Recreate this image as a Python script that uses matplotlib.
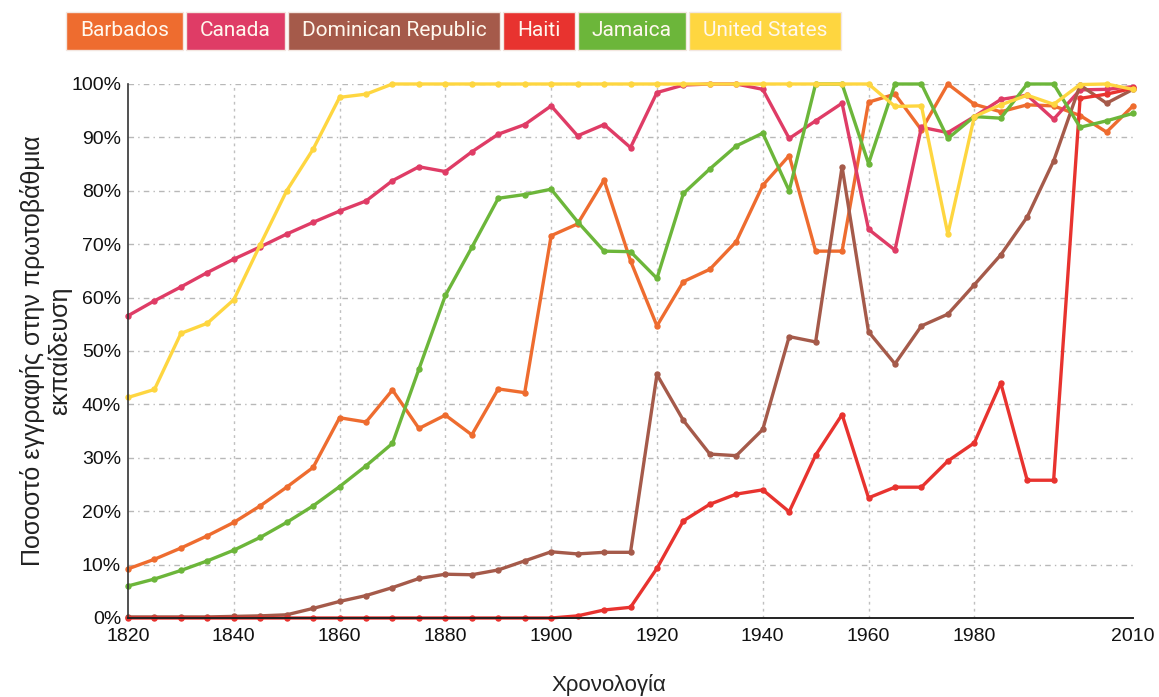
import matplotlib
matplotlib.use("Agg")
import matplotlib.pyplot as plt
from matplotlib.patches import Rectangle
from matplotlib.ticker import FuncFormatter

years = [1820, 1825, 1830, 1835, 1840, 1845, 1850, 1855, 1860, 1865,
         1870, 1875, 1880, 1885, 1890, 1895, 1900, 1905, 1910, 1915,
         1920, 1925, 1930, 1935, 1940, 1945, 1950, 1955, 1960, 1965,
         1970, 1975, 1980, 1985, 1990, 1995, 2000, 2005, 2010]

barbados = [9.2, 11.0, 13.1, 15.4, 17.9, 21.0, 24.5, 28.2, 37.5, 36.7,
            42.7, 35.5, 38.0, 34.3, 42.9, 42.2, 71.6, 73.8, 82.0, 66.9,
            54.7, 63.0, 65.3, 70.5, 81.0, 86.6, 68.7, 68.7, 96.6, 98.1,
            91.4, 100.0, 96.2, 94.8, 96.1, 95.9, 94.1, 91.0, 95.9]
canada = [56.6, 59.4, 62.0, 64.7, 67.2, 69.5, 71.9, 74.1, 76.2, 78.1,
          81.9, 84.5, 83.6, 87.3, 90.6, 92.4, 95.9, 90.3, 92.4, 88.1,
          98.4, 99.8, 100.0, 100.0, 99.0, 89.8, 93.1, 96.4, 72.8, 68.9,
          91.9, 90.9, 93.9, 97.1, 97.9, 93.4, 98.9, 99.0, 99.5]
dominican = [0.2, 0.2, 0.2, 0.2, 0.3, 0.4, 0.6, 1.8, 3.1, 4.2,
             5.7, 7.4, 8.2, 8.1, 9.0, 10.7, 12.4, 12.0, 12.3, 12.3,
             45.6, 37.0, 30.7, 30.4, 35.3, 52.7, 51.7, 84.5, 53.6, 47.6,
             54.7, 56.9, 62.4, 68.0, 75.1, 85.6, 99.8, 96.4, 99.0]
haiti = [0, 0, 0, 0, 0, 0, 0, 0, 0, 0,
         0, 0, 0, 0, 0, 0, 0, 0.4, 1.5, 2.0,
         9.3, 18.2, 21.3, 23.2, 24.0, 19.9, 30.5, 38.1, 22.5, 24.5,
         24.5, 29.4, 32.8, 44.0, 25.8, 25.8, 97.3, 98.1, 99.2]
jamaica = [6.0, 7.3, 8.9, 10.7, 12.7, 15.1, 17.9, 21.0, 24.6, 28.5,
           32.7, 46.6, 60.4, 69.4, 78.6, 79.3, 80.3, 74.2, 68.7, 68.6,
           63.6, 79.5, 84.1, 88.4, 90.8, 80.0, 100.0, 100.0, 85.1, 100.0,
           100.0, 89.8, 93.9, 93.6, 100.0, 100.0, 91.9, 93.1, 94.5]
united_states = [41.3, 42.8, 53.3, 55.2, 59.6, 69.9, 80.0, 87.8, 97.5, 98.1,
                 100.0, 100.0, 100.0, 100.0, 100.0, 100.0, 100.0, 100.0, 100.0, 100.0,
                 100.0, 100.0, 100.0, 100.0, 100.0, 100.0, 100.0, 100.0, 100.0, 95.8,
                 95.9, 71.9, 93.9, 96.1, 97.9, 96.2, 99.9, 100.0, 99.0]

countries = ["Barbados", "Canada", "Dominican Republic", "Haiti", "Jamaica", "United States"]
series = [barbados, canada, dominican, haiti, jamaica, united_states]
colors = ["#ee6c2f", "#df3c66", "#a55a4a", "#e8332f", "#6cb63a", "#fed640"]

x_ticks = [1820, 1840, 1860, 1880, 1900, 1920, 1940, 1960, 1980, 2010]
y_ticks = [0, 10, 20, 30, 40, 50, 60, 70, 80, 90, 100]

plt.rcParams["font.family"] = ["Liberation Sans", "DejaVu Sans"]

W, H = 1159, 697
fig = plt.figure(figsize=(W / 100, H / 100), dpi=100)
ax = fig.add_axes([128 / W, 1 - 618 / H, (1133 - 128) / W, (618 - 84) / H])

for name, vals, col in zip(countries, series, colors):
    ax.plot(years, vals, color=col, lw=2.4, marker="o", ms=3.6,
            mec=col, mfc=col, clip_on=False, solid_joinstyle="round")

ax.set_xlim(1820, 2010)
ax.set_ylim(0, 100)
ax.set_xticks(x_ticks)
ax.set_yticks(y_ticks)
ax.yaxis.set_major_formatter(FuncFormatter(lambda v, p: f"{v:.0f}%"))
ax.tick_params(length=0, labelsize=14, colors="#111111")
ax.tick_params(axis="x", pad=7)
ax.tick_params(axis="y", pad=5)

# grid: dash-dot horizontal, dotted vertical
for v in y_ticks[1:]:
    ax.axhline(v, color="#b8b8b8", lw=1.0, ls=(0, (4, 3, 1, 3)), zorder=0)
for v in x_ticks[1:-1]:
    ax.axvline(v, color="#c0c0c0", lw=1.0, ls=(0, (2, 3)), zorder=0)

for s in ["top", "right"]:
    ax.spines[s].set_visible(False)
ax.spines["left"].set_color("#333333")
ax.spines["left"].set_linewidth(1.2)
ax.spines["bottom"].set_color("#222222")
ax.spines["bottom"].set_linestyle((0, (1, 1)))
ax.spines["bottom"].set_linewidth(1.4)

ax.set_ylabel("Ποσοστό εγγραφής στην πρωτοβάθμια\nεκπαίδευση", fontsize=18,
              color="#222222", linespacing=1.1)
ax.yaxis.set_label_coords(-0.056, 0.5)
ax.set_xlabel("Χρονολογία", fontsize=16, color="#222222")
ax.xaxis.set_label_coords(0.478, -0.105)

# legend boxes along the top
renderer = fig.canvas.get_renderer()
x0 = 66
for name, col in zip(countries, colors):
    t = fig.text(0, 0, name, fontsize=15, color="#fff8ee",
                 family=["Roboto", "DejaVu Sans"], va="center", ha="left")
    w = t.get_window_extent(renderer).width
    box_w = w + 28
    fig.patches.append(Rectangle((x0, H - 50), box_w, 38, transform=None,
                                 facecolor=col, edgecolor="#f3e6e0", lw=1.0))
    t.set_position(((x0 + 14) / W, 1 - 31 / H))
    x0 += box_w + 3

fig.savefig("out.png", dpi=100)
